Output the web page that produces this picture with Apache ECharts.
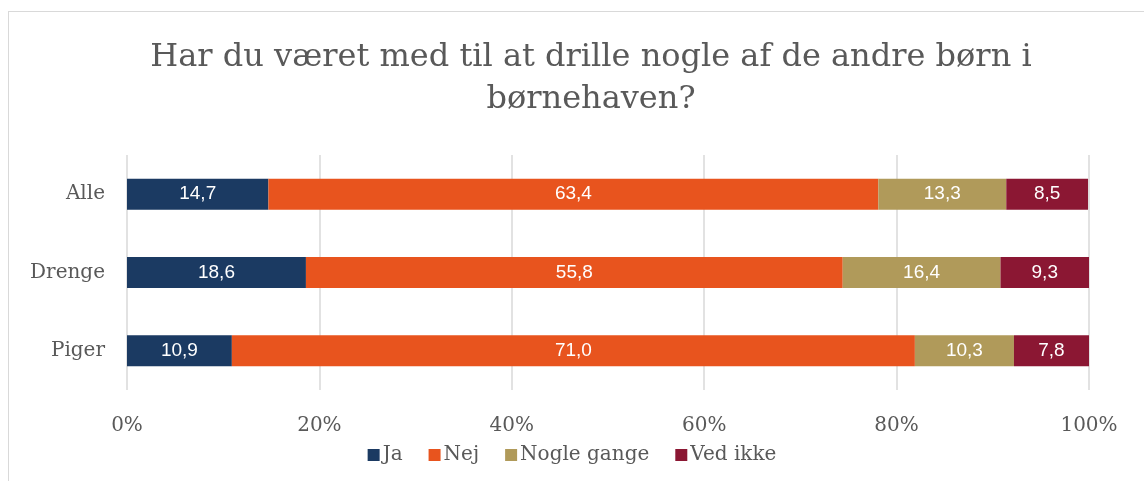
<!DOCTYPE html>
<html>
<head>
<meta charset="utf-8">
<script src="https://cdn.jsdelivr.net/npm/echarts@6/dist/echarts.min.js"></script>
<style>
	html, body { margin: 0; padding: 0; background: #fff; overflow: hidden; }
	#main { width: 1144px; height: 481px; }
	#frame { position: absolute; z-index: 10; left: 8px; top: 11px; width: 1140px; height: 480px; border: 1px solid #d9d9d9; box-sizing: border-box; pointer-events: none; }
</style>
</head>
<body>
<div id="frame"></div>
<div id="main"></div>
<script>
// kategorier og værdier (procent)
var groups = ['Alle', 'Drenge', 'Piger'];
var seriesNames = ['Ja', 'Nej', 'Nogle gange', 'Ved ikke'];
var ja = [14.7, 18.6, 10.9];
var nej = [63.4, 55.8, 71.0];
var nogle = [13.3, 16.4, 10.3];
var vedIkke = [8.5, 9.3, 7.8];
var colors = ['#1b3a62', '#e8541e', '#b09a5a', '#8b1733'];

var chart = echarts.init(document.getElementById('main'));
var serif = '"DejaVu Serif", Georgia, serif';

var makeSeries = function (name, data, color) {
	return {
		name: name,
		type: 'bar',
		stack: 'total',
		barWidth: 31,
		data: data,
		itemStyle: { color: color },
		label: {
			show: true,
			position: 'inside',
			color: '#fff',
			fontFamily: '"Liberation Sans", Arial, sans-serif',
			fontSize: 19,
			formatter: function (p) {
				return p.value.toFixed(1).replace('.', ',');
			}
		}
	};
};

var option = {
	backgroundColor: '#fff',
	animation: false,
	title: {
		text: 'Har du været med til at drille nogle af de andre børn i\nbørnehaven?',
		left: 586,
		textAlign: 'center',
		top: 32,
		textStyle: {
			color: '#595959',
			fontFamily: serif,
			fontWeight: 'normal',
			fontSize: 32,
			lineHeight: 42
		}
	},
	legend: {
		bottom: 11,
		left: 'center',
		itemWidth: 12,
		itemHeight: 12,
		itemGap: 26,
		icon: 'rect',
		textStyle: { color: '#595959', fontFamily: serif, fontSize: 20, padding: [0, 0, 0, -2] },
		data: seriesNames
	},
	grid: { left: 127, right: 55, top: 155, bottom: 91, containLabel: false },
	xAxis: {
		type: 'value',
		min: 0,
		max: 100,
		interval: 20,
		axisLine: { show: false },
		axisTick: { show: false },
		splitLine: { lineStyle: { color: '#d9d9d9', width: 1.5 } },
		axisLabel: {
			color: '#595959',
			fontFamily: serif,
			fontSize: 20,
			margin: 26,
			formatter: '{value}%'
		}
	},
	yAxis: {
		type: 'category',
		inverse: true,
		data: groups,
		axisLine: { show: false },
		axisTick: { show: false },
		axisLabel: { color: '#595959', fontFamily: serif, fontSize: 20, margin: 22 }
	},
	series: [
		makeSeries(seriesNames[0], ja, colors[0]),
		makeSeries(seriesNames[1], nej, colors[1]),
		makeSeries(seriesNames[2], nogle, colors[2]),
		makeSeries(seriesNames[3], vedIkke, colors[3])
	]
};
chart.setOption(option);
</script>
</body>
</html>
